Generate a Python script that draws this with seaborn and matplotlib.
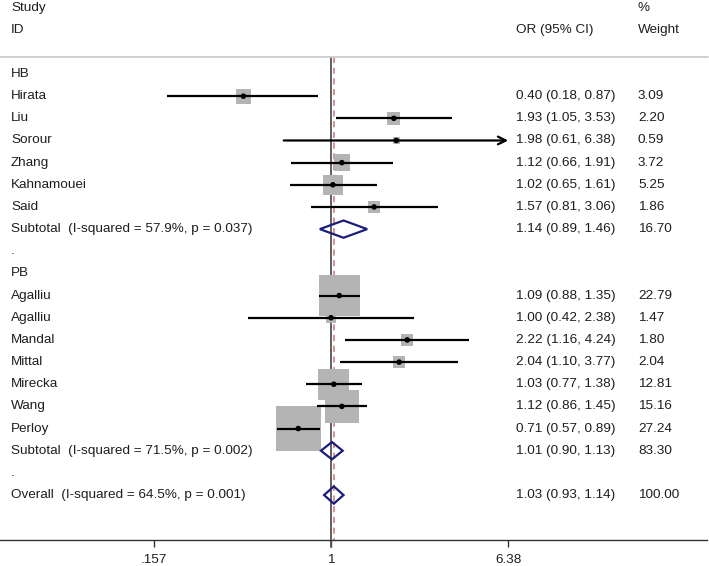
import numpy as np
import matplotlib
matplotlib.use("Agg")
import matplotlib.pyplot as plt
import matplotlib.transforms as mtransforms
from matplotlib.patches import Polygon
import seaborn as sns

# study-level data (odds ratios, 95% CI, % weight)
hb_studies = ["Hirata", "Liu", "Sorour", "Zhang", "Kahnamouei", "Said"]
hb_or = [0.40, 1.93, 1.98, 1.12, 1.02, 1.57]
hb_lo = [0.18, 1.05, 0.61, 0.66, 0.65, 0.81]
hb_hi = [0.87, 3.53, 6.38, 1.91, 1.61, 3.06]
hb_w = [3.09, 2.20, 0.59, 3.72, 5.25, 1.86]

pb_studies = ["Agalliu", "Agalliu", "Mandal", "Mittal", "Mirecka", "Wang", "Perloy"]
pb_or = [1.09, 1.00, 2.22, 2.04, 1.03, 1.12, 0.71]
pb_lo = [0.88, 0.42, 1.16, 1.10, 0.77, 0.86, 0.57]
pb_hi = [1.35, 2.38, 4.24, 3.77, 1.38, 1.45, 0.89]
pb_w = [22.79, 1.47, 1.80, 2.04, 12.81, 15.16, 27.24]

# pooled estimates
pooled_labels = ["Subtotal  (I-squared = 57.9%, p = 0.037)",
                 "Subtotal  (I-squared = 71.5%, p = 0.002)",
                 "Overall  (I-squared = 64.5%, p = 0.001)"]
pooled_or = [1.14, 1.01, 1.03]
pooled_lo = [0.89, 0.90, 0.93]
pooled_hi = [1.46, 1.13, 1.14]
pooled_w = [16.70, 83.30, 100.00]

tick_vals = [0.157, 1, 6.38]
tick_labels = [".157", "1", "6.38"]

sns.set_theme(style="white")
plt.rcParams["font.family"] = ["Liberation Sans", "DejaVu Sans"]

W, H = 709, 566
fig = plt.figure(figsize=(W / 100, H / 100), dpi=100)
ax = fig.add_axes([0, 26 / H, 707 / W, 540 / H])

row_px = 22.16
top_row = -74 / row_px
bot_row = (540 - 74) / row_px
xmin = np.exp(-331 / 95.6)
xmax = np.exp((707 - 331) / 95.6)
ax.set_xscale("log")
ax.set_xlim(xmin, xmax)
ax.set_ylim(bot_row, top_row)

# build rows
rows = []  # (row, label, or, lo, hi, w, kind)
r = 0
rows.append((r, "HB", None, None, None, None, "head")); r += 1
for s, o, l, h, w in zip(hb_studies, hb_or, hb_lo, hb_hi, hb_w):
    rows.append((r, s, o, l, h, w, "study")); r += 1
rows.append((r, pooled_labels[0], pooled_or[0], pooled_lo[0], pooled_hi[0], pooled_w[0], "pool")); r += 1
rows.append((r, ".", None, None, None, None, "head")); r += 1
rows.append((r, "PB", None, None, None, None, "head")); r += 1
for s, o, l, h, w in zip(pb_studies, pb_or, pb_lo, pb_hi, pb_w):
    rows.append((r, s, o, l, h, w, "study")); r += 1
rows.append((r, pooled_labels[1], pooled_or[1], pooled_lo[1], pooled_hi[1], pooled_w[1], "pool")); r += 1
rows.append((r, ".", None, None, None, None, "head")); r += 1
rows.append((r, pooled_labels[2], pooled_or[2], pooled_lo[2], pooled_hi[2], pooled_w[2], "pool"))

line_top = -0.77
ax.plot([1, 1], [line_top, bot_row + 0.3], color="#555555", lw=1.3, clip_on=False, zorder=1)
ax.plot([pooled_or[2]] * 2, [line_top, bot_row], color="#c87878", lw=1.1,
        ls=(0, (4, 3)), zorder=1.5)

study_rows = [x for x in rows if x[6] == "study"]
sy = [x[0] for x in study_rows]
so = [x[2] for x in study_rows]
sw = np.array([x[5] for x in study_rows])
side_pt = 8.6 * 0.72 * np.sqrt(sw)
sns.scatterplot(x=so, y=sy, s=side_pt ** 2, marker="s", color="#b4b4b4",
                edgecolor="none", linewidth=0, ax=ax, zorder=2, legend=False)

for (ry, lab, o, l, h, w, kind) in study_rows:
    if h >= tick_vals[-1]:
        ax.annotate("", xy=(h, ry), xytext=(l, ry),
                    arrowprops=dict(arrowstyle="->", color="black", lw=1.6,
                                    mutation_scale=14, shrinkA=0, shrinkB=0), zorder=3)
    else:
        ax.plot([l, h], [ry, ry], color="black", lw=1.6, zorder=3, solid_capstyle="butt")
sns.scatterplot(x=so, y=sy, s=16, color="black", edgecolor="none", ax=ax, zorder=4, legend=False)

hh = 0.39
for (ry, lab, o, l, h, w, kind) in rows:
    if kind != "pool":
        continue
    pts = [(l, ry), (o, ry - hh), (h, ry), (o, ry + hh)]
    ax.add_patch(Polygon(pts, closed=True, fill=False, edgecolor="#1c1c7c", lw=1.6, zorder=5))

tr = mtransforms.blended_transform_factory(fig.transFigure, ax.transData)
fs = 9.7
tc = "#1e1e1e"
def put(xpx, yrow, s):
    ax.text(xpx / W, yrow, s, transform=tr, fontsize=fs, color=tc, va="center", ha="left")

put(11, -3.0, "Study")
put(11, -2.0, "ID")
put(516, -2.0, "OR (95% CI)")
put(638, -3.0, "%")
put(638, -2.0, "Weight")

for (ry, lab, o, l, h, w, kind) in rows:
    put(11, ry, lab)
    if o is not None:
        put(516, ry, f"{o:.2f} ({l:.2f}, {h:.2f})")
        put(638, ry, f"{w:.2f}")

ax.plot([0, 708 / W], [line_top, line_top], transform=tr, color="#cccccc", lw=1.3, clip_on=False)

for sp in ["top", "right", "left"]:
    ax.spines[sp].set_visible(False)
ax.spines["bottom"].set_color("#333333")
ax.spines["bottom"].set_linewidth(1.0)
ax.set_yticks([])
ax.set_xticks(tick_vals)
ax.set_xticklabels(tick_labels)
ax.minorticks_off()
ax.tick_params(axis="x", bottom=True, length=5, width=1, color="#333333",
               labelsize=fs, labelcolor=tc, pad=5)

fig.savefig("out.png", dpi=100)
